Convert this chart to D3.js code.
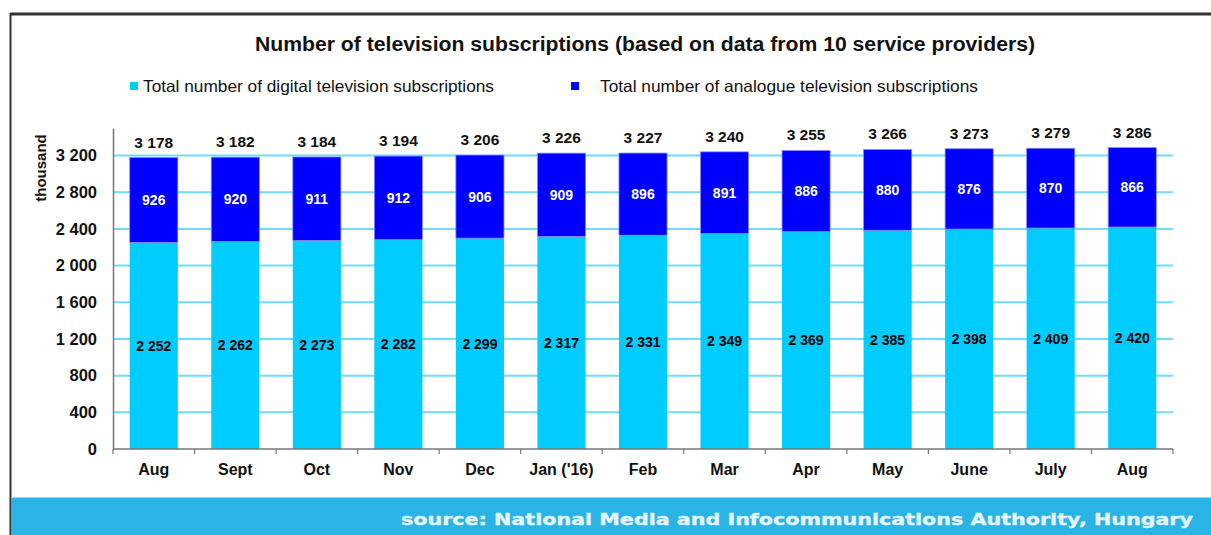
<!DOCTYPE html>
<html>
<head>
<meta charset="utf-8">
<script src="https://cdn.jsdelivr.net/npm/d3@7"></script>
<style>
  body { margin: 0; background: #fff; }
  svg { display: block; font-family: "Liberation Sans", Arial, sans-serif; }
</style>
</head>
<body>
<div id="chart"></div>
<script>
var months = ["Aug", "Sept", "Oct", "Nov", "Dec", "Jan ('16)", "Feb", "Mar", "Apr", "May", "June", "July", "Aug"];
var digital = [2252, 2262, 2273, 2282, 2299, 2317, 2331, 2349, 2369, 2385, 2398, 2409, 2420];
var analogue = [926, 920, 911, 912, 906, 909, 896, 891, 886, 880, 876, 870, 866];
var totals = [3178, 3182, 3184, 3194, 3206, 3226, 3227, 3240, 3255, 3266, 3273, 3279, 3286];
var yTicks = [0, 400, 800, 1200, 1600, 2000, 2400, 2800, 3200];

var W = 1211, H = 535;
var marg = { top: 128, bot: 86, left: 113, right: 38 };

var fmt = d3.formatLocale({ decimal: ".", thousands: "\u00a0", grouping: [3], currency: ["", ""] }).format(",d");

var svg = d3.select("#chart").append("svg")
  .attr("width", W).attr("height", H);

// frame
svg.append("rect").attr("x", 0).attr("y", 0).attr("width", W).attr("height", H).attr("fill", "#fff");
svg.append("line").attr("x1", 10).attr("x2", W).attr("y1", 14).attr("y2", 14)
  .attr("stroke", "#333").attr("stroke-width", 3);
svg.append("line").attr("x1", 10.5).attr("x2", 10.5).attr("y1", 13).attr("y2", H)
  .attr("stroke", "#333").attr("stroke-width", 2);

// source band
svg.append("rect").attr("x", 11).attr("y", 497).attr("width", W - 11).attr("height", H - 497).attr("fill", "#2ab4e6");
svg.append("line").attr("x1", 11).attr("x2", W).attr("y1", 497.5).attr("y2", 497.5).attr("stroke", "#8fdcf5");
svg.append("text")
  .attr("x", 1193).attr("y", 525)
  .attr("text-anchor", "end")
  .attr("font-family", "'DejaVu Sans', sans-serif")
  .attr("font-weight", "bold")
  .attr("font-size", 15.5)
  .attr("fill", "#e6f5fb").attr("stroke", "#e6f5fb").attr("stroke-width", 0.35)
  .attr("textLength", 792).attr("lengthAdjust", "spacingAndGlyphs")
  .text("source: National Media and Infocommunications Authority, Hungary");

// title
svg.append("text")
  .attr("x", 645).attr("y", 51)
  .attr("text-anchor", "middle")
  .attr("font-weight", "bold").attr("font-size", 19.5)
  .attr("fill", "#111")
  .attr("textLength", 780).attr("lengthAdjust", "spacingAndGlyphs")
  .text("Number of television subscriptions (based on data from 10 service providers)");

// legend
var legend = [
  { label: "Total number of digital television subscriptions", color: "#00ccff", x: 130, tx: 143, len: 351 },
  { label: "Total number of analogue television subscriptions", color: "#0000ff", x: 571, tx: 600, len: 378 }
];
var lg = svg.selectAll(".leg").data(legend).enter().append("g").attr("class", "leg");
lg.append("rect").attr("x", d => d.x).attr("y", 82).attr("width", 8).attr("height", 8).attr("fill", d => d.color);
lg.append("text").attr("x", d => d.tx).attr("y", 92).attr("font-size", 16.5).attr("fill", "#111")
  .attr("textLength", d => d.len).attr("lengthAdjust", "spacingAndGlyphs")
  .text(d => d.label);

var x = d3.scaleBand().domain(d3.range(months.length))
  .range([marg.left, W - marg.right]).paddingInner(0.41).paddingOuter(0.205);
var y = d3.scaleLinear().domain([0, 3500]).range([H - marg.bot, marg.top]);

// gridlines
svg.append("g").selectAll("line").data(yTicks.slice(1)).enter().append("line")
  .attr("x1", marg.left).attr("x2", W - marg.right)
  .attr("y1", d => y(d)).attr("y2", d => y(d))
  .attr("stroke", "#6fdcff").attr("stroke-width", 2);

// y axis
var yAxis = d3.axisLeft(y).tickValues(yTicks).tickSize(0).tickPadding(16).tickFormat(fmt);
var ya = svg.append("g").attr("transform", "translate(" + marg.left + ",0)").call(yAxis);
ya.select(".domain").attr("stroke", "#777").attr("stroke-width", 1.5);
ya.selectAll("text").attr("font-size", 16.5).attr("font-weight", "bold").attr("fill", "#111")
  .attr("font-family", "'Liberation Sans', Arial, sans-serif");

svg.append("text")
  .attr("transform", "translate(46,168) rotate(-90)")
  .attr("text-anchor", "middle")
  .attr("font-size", 15).attr("font-weight", "bold").attr("fill", "#111")
  .text("thousand");

// bars
var bars = svg.append("g").selectAll("g").data(months).enter().append("g");
bars.append("rect")
  .attr("x", (d, i) => x(i)).attr("width", x.bandwidth())
  .attr("y", (d, i) => y(digital[i])).attr("height", (d, i) => y(0) - y(digital[i]))
  .attr("fill", "#00ccff");
bars.append("rect")
  .attr("x", (d, i) => x(i)).attr("width", x.bandwidth())
  .attr("y", (d, i) => y(digital[i] + analogue[i])).attr("height", (d, i) => y(digital[i]) - y(digital[i] + analogue[i]))
  .attr("fill", "#0000ff").attr("stroke", "#8a8aff").attr("stroke-width", 0.8);

// value labels
bars.append("text")
  .attr("x", (d, i) => x(i) + x.bandwidth() / 2)
  .attr("y", (d, i) => y(digital[i] / 2) + 5)
  .attr("text-anchor", "middle").attr("font-size", 14).attr("font-weight", "bold").attr("fill", "#000")
  .text((d, i) => fmt(digital[i]));
bars.append("text")
  .attr("x", (d, i) => x(i) + x.bandwidth() / 2)
  .attr("y", (d, i) => y(digital[i] + analogue[i] / 2) + 5)
  .attr("text-anchor", "middle").attr("font-size", 14).attr("font-weight", "bold").attr("fill", "#fff")
  .text((d, i) => fmt(analogue[i]));
bars.append("text")
  .attr("x", (d, i) => x(i) + x.bandwidth() / 2)
  .attr("y", (d, i) => y(totals[i]) - 10)
  .attr("text-anchor", "middle").attr("font-size", 15.5).attr("font-weight", "bold").attr("fill", "#111")
  .text((d, i) => fmt(totals[i]));

// x axis
var xa = svg.append("g").attr("transform", "translate(0," + y(0) + ")");
xa.append("line").attr("x1", marg.left).attr("x2", W - marg.right).attr("y1", 0).attr("y2", 0)
  .attr("stroke", "#777").attr("stroke-width", 1.5);
xa.selectAll(".tk").data(d3.range(months.length + 1)).enter().append("line")
  .attr("x1", i => marg.left + i * (W - marg.right - marg.left) / months.length)
  .attr("x2", i => marg.left + i * (W - marg.right - marg.left) / months.length)
  .attr("y1", 0).attr("y2", 5).attr("stroke", "#777").attr("stroke-width", 1.2);
xa.selectAll(".lbl").data(months).enter().append("text")
  .attr("x", (d, i) => x(i) + x.bandwidth() / 2).attr("y", 26)
  .attr("text-anchor", "middle").attr("font-size", 16).attr("font-weight", "bold").attr("fill", "#111")
  .text(d => d);
</script>
</body>
</html>
